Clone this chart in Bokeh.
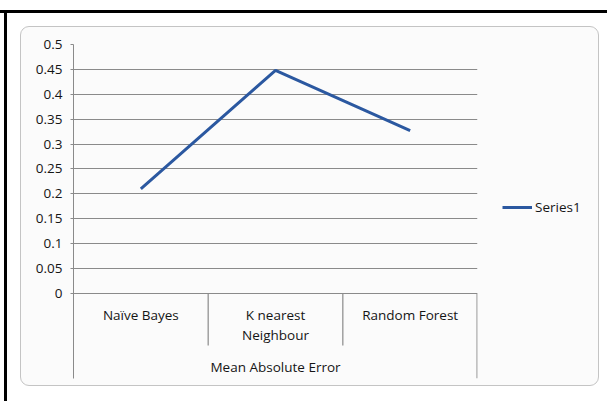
from bokeh.plotting import figure
from bokeh.models import (FactorRange, Range1d, FixedTicker, Legend, LegendItem,
                          ColumnDataSource, InlineStyleSheet)
from bokeh.core.properties import value
from bokeh.embed import file_html
from bokeh.resources import INLINE

# ---- data ----
categories = ["Naïve Bayes", "K nearest\nNeighbour", "Random Forest"]
group_label = "Mean Absolute Error"
series_name = "Series1"
mae_values = [0.21, 0.448, 0.327]
y_ticks = [0, 0.05, 0.1, 0.15, 0.2, 0.25, 0.3, 0.35, 0.4, 0.45, 0.5]
y_tick_labels = ["0", "0.05", "0.1", "0.15", "0.2", "0.25", "0.3", "0.35", "0.4", "0.45", "0.5"]

FONT = "Open Sans"
GRID = "#8a8a8a"
BLUE = "#2b58a0"
TXT = "#151515"
FS = "13.5px"

p = figure(frame_width=404, frame_height=334,
           output_backend="svg", toolbar_location=None,
           x_range=FactorRange(*categories), y_range=Range1d(-0.1707, 0.5),
           min_border_left=73, min_border_right=130, min_border_top=44,
           min_border_bottom=23)
p.border_fill_color = None
p.background_fill_color = None
p.outline_line_color = None

css = """
:host {
  isolation: isolate;
  background:
    linear-gradient(#000, #000) 0 10px / 100% 3px no-repeat,
    linear-gradient(#000, #000) 4px 10px / 3px 100% no-repeat,
    #ffffff;
}
:host::before {
  content: "";
  position: absolute;
  z-index: -1;
  left: 20px; top: 26px; width: 579px; height: 360px;
  box-sizing: border-box;
  border: 1.5px solid #c4c4c4;
  border-radius: 9px;
  background: #fbfbfb;
}
"""
p.stylesheets = [InlineStyleSheet(css=css)]

# axes
p.xaxis.visible = False
p.xgrid.visible = False
yax = p.yaxis[0]
yax.ticker = FixedTicker(ticks=y_ticks)
yax.major_label_overrides = {t: s for t, s in zip(y_ticks, y_tick_labels)}
yax.axis_line_color = GRID
yax.major_tick_line_color = GRID
yax.major_tick_out = 3
yax.major_tick_in = 0
yax.minor_tick_line_color = None
yax.major_label_text_font = FONT
yax.major_label_text_font_size = FS
yax.major_label_text_color = TXT
yax.major_label_standoff = 8
p.ygrid.ticker = FixedTicker(ticks=y_ticks)
p.ygrid.grid_line_color = GRID
p.ygrid.grid_line_width = 1

# category separators (synthetic factor coordinates between categories)
sep = ColumnDataSource(dict(x=[1, 2, 2.997], y0=[0, 0, 0], y1=[-0.1044, -0.1044, -0.1707]))
p.segment(x0="x", y0="y0", x1="x", y1="y1", source=sep, line_color=GRID, line_width=1.2)

# category labels
p.text(x=categories, y=[-0.0249] * len(categories), text=categories,
       text_font=value(FONT), text_font_size=FS, text_align="center",
       text_baseline="top", text_line_height=1.1, text_color=TXT)
p.text(x=[1.5], y=[-0.1486], text=[group_label],
       text_font=value(FONT), text_font_size=FS, text_align="center",
       text_baseline="middle", text_color=TXT)

# series
r = p.line(x=categories, y=mae_values, line_color=BLUE, line_width=3)

legend = Legend(items=[LegendItem(label=series_name, renderers=[r])],
                location=(25, 162), padding=0, margin=0, spacing=0,
                glyph_width=30, glyph_height=16, label_standoff=3,
                border_line_color=None, background_fill_alpha=0,
                label_text_font=FONT, label_text_font_size=FS,
                label_text_color=TXT)
p.add_layout(legend, "right")

open("out.html", "w").write(file_html(p, INLINE))
